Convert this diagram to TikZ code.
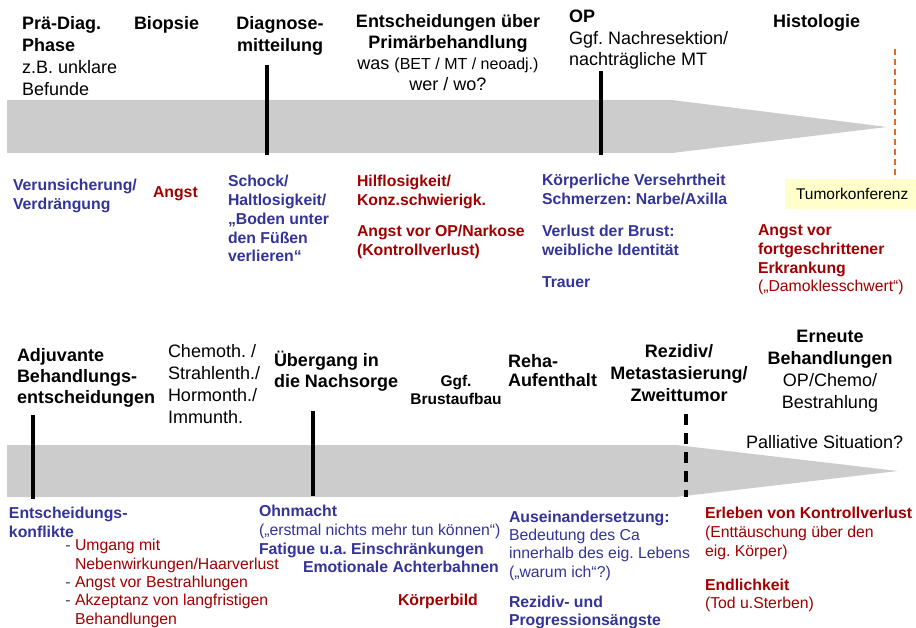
\documentclass[tikz,border=0pt]{standalone}
\usepackage{fontspec}
\setmainfont{Liberation Sans}
\frenchspacing
\definecolor{cblue}{RGB}{51,51,153}
\definecolor{cred}{RGB}{160,0,0}
\definecolor{bandgray}{RGB}{204,204,204}
\definecolor{orng}{RGB}{221,110,40}
\definecolor{tkfill}{RGB}{255,255,204}
\begin{document}
% note: multi-line nodes are placed by the baseline of their LAST line
\begin{tikzpicture}[x=1pt,y=-1pt,
  every node/.style={inner sep=0pt, outer sep=0pt, anchor=base west, align=left},
  head/.style={font=\fontsize{18}{22}\selectfont\bfseries},
  reg/.style={font=\fontsize{18}{22}\selectfont},
  blu/.style={text=cblue, font=\fontsize{15.8}{19}\selectfont\bfseries},
  rd/.style={text=cred, font=\fontsize{15.8}{19}\selectfont\bfseries},
  bar/.style={line width=4pt},
  ctr/.style={anchor=base, align=center},
]
\useasboundingbox (0,0) rectangle (916,628);
% bands
\fill[bandgray] (7,100) -- (672,100) -- (887,127) -- (672,153) -- (7,153) -- cycle;
\fill[bandgray] (7,445) -- (676,445) -- (898,471) -- (676,497) -- (7,497) -- cycle;
% bars
\draw[bar] (267,65) -- (267,155);
\draw[bar] (601,71) -- (601,155);
\draw[bar] (33,415) -- (33,499);
\draw[bar] (313,411) -- (313,496);
\draw[bar, dash pattern=on 11pt off 8pt] (686,414) -- (686,497);
% top headings
\node[reg] (pre) at (22,96) {\textbf{Prä-Diag.}\\\textbf{Phase}\\z.B. unklare\\Befunde};
\node[head] (bio) at (134,30) {Biopsie};
\node[head,ctr] (diag) at (280,52) {Diagnose-\\mitteilung};
\node[ctr, font=\fontsize{18}{21.3}\selectfont] (ent) at (448,91) {\textbf{Entscheidungen über}\\\textbf{Primärbehandlung}\\was {\fontsize{16}{21.3}\selectfont(BET / MT / neoadj.)}\\wer / wo?};
\node[font=\fontsize{18}{21.5}\selectfont] (op) at (569,66) {\textbf{OP}\\Ggf. Nachresektion/\\nachträgliche MT};
\node[head] (hist) at (773,28) {Histologie};
% Tumorkonferenz
\node[fill=tkfill, anchor=west, inner xsep=11pt, minimum height=30pt,
      font=\fontsize{15.5}{19}\selectfont] (tk) at (785,194) {Tumorkonferenz};
\coordinate (histtop) at (895,49);
\draw[orng, line width=1.5pt, dash pattern=on 6pt off 4pt] (histtop) -- (histtop |- tk.north);
% top emotions
\node[blu] (ver) at (13,210) {Verunsicherung/\\Verdrängung};
\node[rd] (angst) at (153,198) {Angst};
\node[blu, font=\fontsize{15.8}{18.8}\selectfont\bfseries] (schock) at (228,262) {Schock/\\Haltlosigkeit/\\„Boden unter\\den Füßen\\verlieren“};
\node[rd] (hilf) at (357,206) {Hilflosigkeit/\\Konz.schwierigk.};
\node[rd] (angstop) at (357,256) {Angst vor OP/Narkose\\(Kontrollverlust)};
\node[blu] (koerp) at (542,205) {Körperliche Versehrtheit\\Schmerzen: Narbe/Axilla};
\node[blu] (verl) at (542,256) {Verlust der Brust:\\weibliche Identität};
\node[blu] (trauer) at (542,288) {Trauer};
\node[rd, font=\fontsize{15.8}{18.7}\selectfont\bfseries] (angstfort) at (758,292) {Angst vor\\fortgeschrittener\\Erkrankung\\\textmd{(„Damoklesschwert“)}};
% bottom headings
\node[head, font=\fontsize{18}{21}\selectfont\bfseries] (adj) at (17,403) {Adjuvante\\Behandlungs-\\entscheidungen};
\node[reg, font=\fontsize{18}{21.7}\selectfont] (chemo) at (168,423) {Chemoth. /\\Strahlenth./\\Hormonth./\\Immunth.};
\node[head, font=\fontsize{18}{21}\selectfont\bfseries] (ueber) at (274,388) {Übergang in\\die Nachsorge};
\node[ctr, font=\fontsize{15.5}{17.5}\selectfont\bfseries] (brust) at (456,404) {Ggf.\\Brustaufbau};
\node[head, font=\fontsize{18}{20}\selectfont\bfseries] (reha) at (508,387) {Reha-\\Aufenthalt};
\node[head,ctr] (rez) at (679,402) {Rezidiv/\\Metastasierung/\\Zweittumor};
\node[ctr, font=\fontsize{18}{21.7}\selectfont] (ern) at (830,408) {\textbf{Erneute}\\\textbf{Behandlungen}\\OP/Chemo/\\Bestrahlung};
\node[reg] (pall) at (746,448) {Palliative Situation?};
% bottom emotions
\node[blu] (konf) at (9,537) {Entscheidungs-\\konflikte};
\node[text=cred, font=\fontsize{15.8}{18.3}\selectfont] (list) at (75,624)
  {\llap{\textcolor{black!75}{- }}Umgang mit\\Nebenwirkungen/Haarverlust\\\llap{\textcolor{black!75}{- }}Angst vor Bestrahlungen\\\llap{\textcolor{black!75}{- }}Akzeptanz von langfristigen\\Behandlungen};
\node[blu] (ohn) at (259,554) {Ohnmacht\\\textmd{(„erstmal nichts mehr tun können“)}\\Fatigue u.a. Einschränkungen};
\node[blu] (emo) at (303,572) {Emotionale Achterbahnen};
\node[rd] (kbild) at (398,605) {Körperbild};
\node[blu, font=\fontsize{15.8}{18.3}\selectfont\bfseries] (aus) at (509,577) {Auseinandersetzung:\\\textmd{Bedeutung des Ca}\\\textmd{innerhalb des eig. Lebens}\\\textmd{(„warum ich“?)}};
\node[blu, font=\fontsize{15.8}{18}\selectfont\bfseries] (rzp) at (509,625) {Rezidiv- und\\Progressionsängste};
\node[rd] (erl) at (705,556) {Erleben von Kontrollverlust\\\textmd{(Enttäuschung über den}\\\textmd{eig. Körper)}};
\node[rd, font=\fontsize{15.8}{18}\selectfont\bfseries] (endl) at (705,608) {Endlichkeit\\\textmd{(Tod u.Sterben)}};
\end{tikzpicture}
\end{document}
